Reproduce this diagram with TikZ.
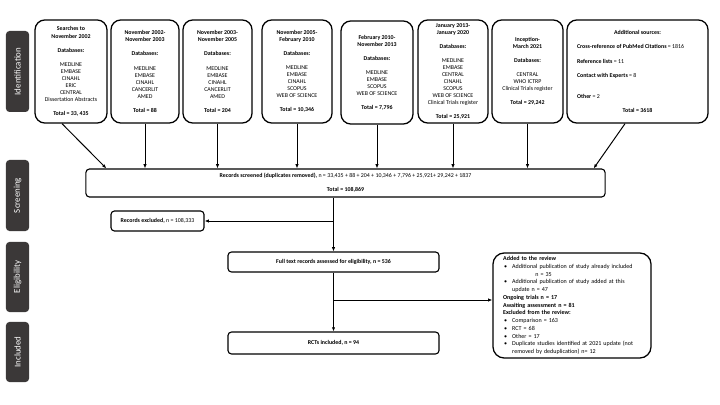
\documentclass[tikz,border=0pt]{standalone}
\usepackage{fontspec}
\setmainfont{Carlito}
\usepackage{tikz}
\usetikzlibrary{arrows.meta, positioning, calc}
\definecolor{phasegray}{RGB}{59, 56, 56}
\newcommand{\blt}{\makebox[5.7pt][l]{\textbullet}}
\newcommand{\srcline}[1]{\makebox[86pt][l]{#1}}

\begin{document}
\begin{tikzpicture}[
  x=0.025cm, y=-0.025cm,
  src/.style={draw, line width=0.9pt, rounded corners=7pt, minimum height=73.3pt, inner sep=0, align=center, font=\fontsize{4.2}{5}\selectfont},
  flowbox/.style={draw, line width=0.8pt, rounded corners=2.5pt, inner sep=0, align=center, font=\fontsize{4.2}{5}\selectfont},
  phase/.style={fill=phasegray, rounded corners=2.5pt, rotate=90, minimum height=16.4pt, inner sep=0, text=white, font=\fontsize{6.3}{7}\selectfont},
  link/.style={-{Latex[length=3pt, width=2.4pt]}, line width=0.7pt}
]
  \useasboundingbox (0,0) rectangle (720,405);

  % Phase labels
  \node[phase, minimum width=57.6pt] (pid) at (17.5, 71.5) {Identification};
  \node[phase, minimum width=50.5pt] (pscr) at (17.5, 195.5) {Screening};
  \node[phase, minimum width=49.8pt] (pel) at (17.5, 277) {Eligibility};
  \node[phase, minimum width=42.7pt] (pinc) at (17.5, 352) {Included};

  % Searches
  \node[src, minimum width=51.2pt] (b1) at (71, 71.5) {\textbf{Searches to}\\\textbf{November 2002}\\[5pt]\textbf{Databases:}\\[5pt]MEDLINE\\EMBASE\\CINAHL\\ERIC\\CENTRAL\\Dissertation Abstracts\\[5pt]\textbf{Total =  33, 435}};
  \node[src, minimum width=48.4pt] (b2) at (145, 71.5) {\textbf{November 2002-}\\\textbf{November 2003}\\[5pt]\textbf{Databases:}\\[5pt]MEDLINE\\EMBASE\\CINAHL\\CANCERLIT\\AMED\\[5pt]\textbf{Total =  88}};
  \node[src, minimum width=49.1pt] (b3) at (217.5, 71.5) {\textbf{November 2003-}\\\textbf{November 2005}\\[5pt]\textbf{Databases:}\\[5pt]MEDLINE\\EMBASE\\CINAHL\\CANCERLIT\\AMED\\[5pt]\textbf{Total =  204}};
  \node[src, minimum width=49.8pt] (b4) at (297, 71.5) {\textbf{November 2005-}\\\textbf{February 2010}\\[5pt]\textbf{Databases:}\\[5pt]MEDLINE\\EMBASE\\CINAHL\\SCOPUS\\WEB OF SCIENCE\\[5pt]\textbf{Total =  10,346}};
  \node[src, minimum width=51.2pt] (b5) at (377, 72.5) {\textbf{February 2010-}\\\textbf{November 2013}\\[5pt]\textbf{Databases:}\\[5pt]MEDLINE\\EMBASE\\SCOPUS\\WEB OF SCIENCE\\[5pt]\textbf{Total =  7,796}};
  \node[src, minimum width=49.8pt] (b6) at (453, 71.5) {\textbf{January 2013-}\\\textbf{January 2020}\\[5pt]\textbf{Databases:}\\[5pt]MEDLINE\\EMBASE\\CENTRAL\\CINAHL\\SCOPUS\\WEB OF SCIENCE\\Clinical Trials register\\[5pt]\textbf{Total =  25,921}};
  \node[src, minimum width=50.5pt] (b7) at (527.5, 71.5) {\textbf{Inception-}\\\textbf{March 2021}\\[5pt]\textbf{Databases:}\\[5pt]CENTRAL\\WHO ICTRP\\Clinical Trials register\\[5pt]\textbf{Total =  29,242}};
  \node[src, minimum width=100.3pt] (b8) at (637.5, 71.5) {\textbf{Additional sources:}\\[5pt]\srcline{\textbf{Cross-reference of PubMed Citations} = 1816}\\[5pt]\srcline{\textbf{Reference lists} = 11}\\[5pt]\srcline{\textbf{Contact with Experts} = 8}\\[10pt]\srcline{\textbf{Other} = 2}\\[5pt]\textbf{Total = 3618}};

  % Flow
  \node[flowbox, minimum width=369.2pt, minimum height=19.9pt] (scr) at (345.5, 183) {\textbf{Records screened (duplicates removed),} n = 33,435 + 88 + 204 + 10,346 + 7,796 + 25,921+ 29,242 + 1837\\[5pt]\textbf{Total = 108,869}};
  \node[flowbox, minimum width=66.2pt, minimum height=14.2pt] (excl) at (157.5, 221) {\textbf{Records excluded,} n = 108,333};
  \node[flowbox, minimum width=150.1pt, minimum height=14.2pt] (ft) at (333.5, 262) {\textbf{Full text records assessed for eligibility, n =  536}};
  \node[flowbox, minimum width=150.1pt, minimum height=15.6pt] (rct) at (333.5, 343) {\textbf{RCTs included, n = 94}};
  \node[draw, line width=0.9pt, rounded corners=8pt, minimum width=112.4pt, minimum height=74.7pt, inner sep=0, text width=98pt, align=left, font=\fontsize{4.3}{5.5}\selectfont] (add) at (572, 305.5) {\textbf{Added to the review}\\
    \hspace*{0.8pt}\blt Additional publication of study already included\\
    \hspace*{23pt}n = 35\\
    \hspace*{0.8pt}\blt Additional publication of study added at this\\
    \hspace*{6.5pt}update n = 47\\
    \textbf{Ongoing trials n = 17}\\
    \textbf{Awaiting assessment n = 81}\\
    \textbf{Excluded from the review:}\\
    \hspace*{0.8pt}\blt Comparison = 163\\
    \hspace*{0.8pt}\blt RCT = 68\\
    \hspace*{0.8pt}\blt Other = 17\\
    \hspace*{0.8pt}\blt Duplicate studies identified at 2021 update (not\\
    \hspace*{6.5pt}removed by deduplication) n= 12};

  % Arrows
  \draw[link] ($(b1.south)+(-9,0)$) -- ($(scr.north west)+(21,0)$);
  \foreach \b in {b2,b3,b4,b5,b6,b7}
    \draw[link] (\b.south) -- (\b.south |- scr.north);
  \draw[link] ($(b8.south)+(-12.5,0)$) -- ($(scr.north east)+(-12,0)$);
  \draw[link] (scr.south -| ft.north) -- (ft.north);
  \draw[link] (excl.east -| ft.north) -- (excl.east);
  \draw[link] (ft.south) -- (rct.north);
  \coordinate (br) at (333.5, 300);
  \draw[link] (br) -- (br -| add.west);
\end{tikzpicture}
\end{document}
